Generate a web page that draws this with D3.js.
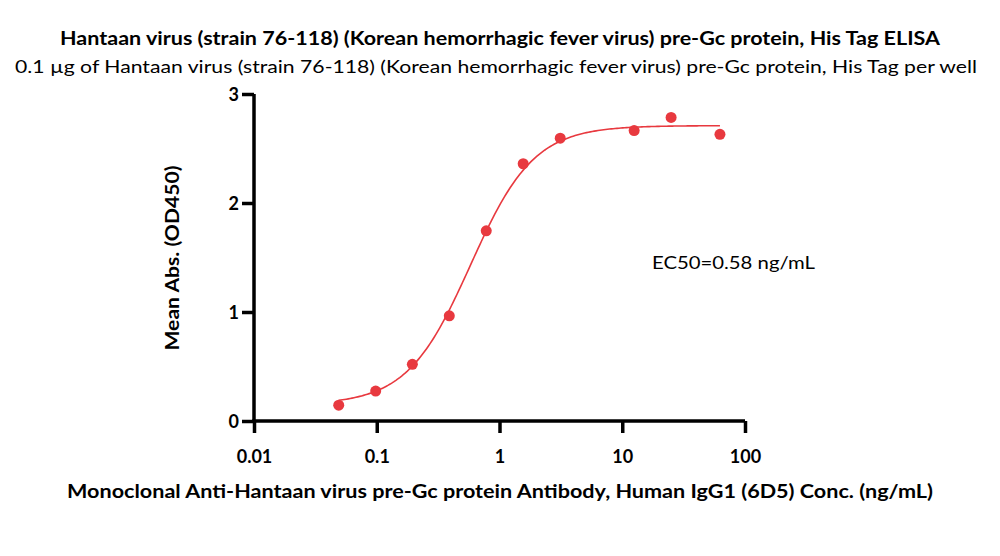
<!DOCTYPE html>
<html><head><meta charset="utf-8">
<script src="https://cdn.jsdelivr.net/npm/d3@7"></script>
<style>body{margin:0;background:#fff}svg{display:block}</style>
</head><body>
<svg id="c" width="1000" height="556"></svg>
<script>
const concentrations = [0.049, 0.098, 0.195, 0.39, 0.78, 1.56, 3.125, 12.5, 25, 62.5];
const absorbance = [0.145, 0.275, 0.52, 0.965, 1.745, 2.36, 2.595, 2.665, 2.785, 2.63];
const xTicks = [0.01, 0.1, 1, 10, 100];
const xTickLabels = ["0.01", "0.1", "1", "10", "100"];
const yTicks = [0, 1, 2, 3];
// 4PL fit parameters
const fitBottom = 0.15, fitTop = 2.71, fitEC50 = 0.58, fitHill = 1.68;

const title = "Hantaan virus (strain 76-118) (Korean hemorrhagic fever virus) pre-Gc protein, His Tag ELISA";
const subtitle = "0.1 \u00b5g of Hantaan virus (strain 76-118) (Korean hemorrhagic fever virus) pre-Gc protein, His Tag per well";
const xLabel = "Monoclonal Anti-Hantaan virus pre-Gc protein Antibody, Human IgG1 (6D5) Conc. (ng/mL)";
const yLabel = "Mean Abs. (OD450)";
const ec50Label = "EC50=0.58 ng/mL";

const svg = d3.select("#c");
const font = "Lato, 'Open Sans', sans-serif";
const red = "#e8393f";

const x = d3.scaleLog().domain([0.01, 100]).range([254, 745]);
const y = d3.scaleLinear().domain([0, 3]).range([421, 94]);

svg.append("text").attr("x", 500).attr("y", 45).attr("text-anchor", "middle")
  .attr("font-family", font).attr("font-weight", "bold").attr("font-size", 18)
  .attr("textLength", 880).attr("lengthAdjust", "spacingAndGlyphs").text(title);
svg.append("text").attr("x", 496).attr("y", 73).attr("text-anchor", "middle")
  .attr("font-family", font).attr("font-size", 18)
  .attr("textLength", 962).attr("lengthAdjust", "spacingAndGlyphs").text(subtitle);

const xAxis = d3.axisBottom(x).tickValues(xTicks).tickFormat((d, i) => xTickLabels[i]).tickSize(12).tickSizeOuter(0);
const gx = svg.append("g").attr("transform", `translate(0,${y(0)})`).call(xAxis);
const yAxis = d3.axisLeft(y).tickValues(yTicks).tickFormat(d3.format("d")).tickSize(12).tickSizeOuter(0);
const gy = svg.append("g").attr("transform", `translate(${x(0.01)},0)`).call(yAxis);

[gx, gy].forEach(g => {
  g.select(".domain").attr("stroke", "#000").attr("stroke-width", 3.5);
  g.selectAll(".tick line").attr("stroke", "#000").attr("stroke-width", 3.5);
  g.selectAll(".tick text").attr("font-family", font).attr("font-weight", "bold")
    .attr("font-size", 18).attr("fill", "#000");
});
gx.selectAll(".tick text").attr("dy", 0).attr("y", 42);
gy.selectAll(".tick text").attr("x", -15).attr("dy", "0.35em");
// extend domains to cover corner
gx.select(".domain").attr("d", `M${x(0.01)-1.75},0H${x(100)}`);
gy.select(".domain").attr("d", `M0,${y(0)+1.75}V${y(3)}`);

// fit curve
const fit = c => fitBottom + (fitTop - fitBottom) / (1 + Math.pow(fitEC50 / c, fitHill));
const curveX = d3.range(0, 201).map(i => Math.pow(10, Math.log10(concentrations[0]) + i * (Math.log10(concentrations[concentrations.length-1]) - Math.log10(concentrations[0])) / 200));
svg.append("path").datum(curveX)
  .attr("d", d3.line().x(d => x(d)).y(d => y(fit(d))).curve(d3.curveLinear))
  .attr("fill", "none").attr("stroke", red).attr("stroke-width", 1.6);

svg.append("g").selectAll("circle").data(concentrations).join("circle")
  .attr("cx", d => x(d)).attr("cy", (d, i) => y(absorbance[i])).attr("r", 5.5).attr("fill", red);

svg.append("text").attr("x", 652).attr("y", 269).attr("font-family", font).attr("font-size", 18)
  .attr("textLength", 163).attr("lengthAdjust", "spacingAndGlyphs").text(ec50Label);

svg.append("text").attr("x", 500).attr("y", 498).attr("text-anchor", "middle")
  .attr("font-family", font).attr("font-weight", "bold").attr("font-size", 18)
  .attr("textLength", 866).attr("lengthAdjust", "spacingAndGlyphs").text(xLabel);

svg.append("text").attr("transform", "translate(179,258) rotate(-90)").attr("text-anchor", "middle")
  .attr("font-family", font).attr("font-weight", "bold").attr("font-size", 18)
  .attr("textLength", 185).attr("lengthAdjust", "spacingAndGlyphs").text(yLabel);
</script>
</body></html>
